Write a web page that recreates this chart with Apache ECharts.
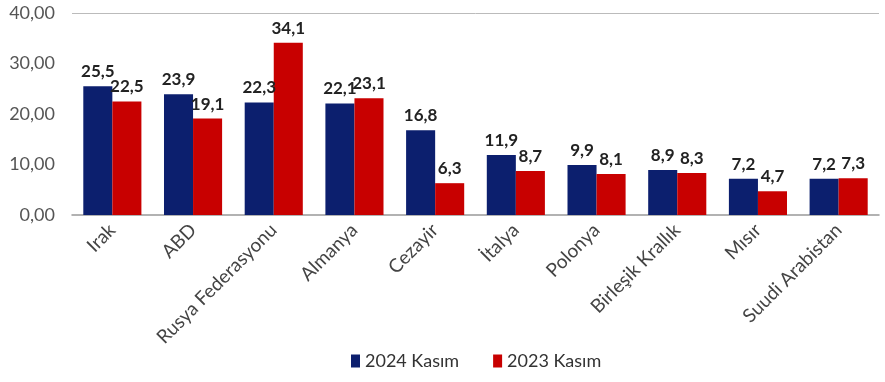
<!DOCTYPE html>
<html>
<head>
<meta charset="utf-8">
<script src="https://cdn.jsdelivr.net/npm/echarts@6/dist/echarts.min.js"></script>
<style>
html,body{margin:0;padding:0;background:#fff;}
#chart{width:885px;height:382px;}
</style>
</head>
<body>
<div id="chart"></div>
<script>
// Countries and monthly values (November 2024 vs November 2023)
const countries = ['Irak', 'ABD', 'Rusya Federasyonu', 'Almanya', 'Cezayir', 'İtalya', 'Polonya', 'Birleşik Krallık', 'Mısır', 'Suudi Arabistan'];
const kasim2024 = [25.5, 23.9, 22.3, 22.1, 16.8, 11.9, 9.9, 8.9, 7.2, 7.2];
const kasim2023 = [22.5, 19.1, 34.1, 23.1, 6.3, 8.7, 8.1, 8.3, 4.7, 7.3];
const seriesNames = ['2024 Kasım', '2023 Kasım'];

const FONT = 'Lato, "Open Sans", sans-serif';
const fmt = v => v.toFixed(1).replace('.', ',');

const chart = echarts.init(document.getElementById('chart'));
chart.setOption({
  animation: false,
  textStyle: { fontFamily: FONT },
  grid: { left: 72, right: 6, top: 13, bottom: 167 },
  legend: {
    bottom: 7,
    left: 346,
    itemWidth: 9,
    itemHeight: 13,
    itemGap: 34,
    icon: 'rect',
    textStyle: { fontSize: 18, color: '#333', fontFamily: FONT },
    data: seriesNames
  },
  xAxis: {
    type: 'category',
    data: countries,
    axisLine: { lineStyle: { color: '#999', width: 1.5 } },
    axisTick: { show: false },
    axisLabel: { rotate: 45, fontSize: 19, color: '#444', margin: 12, interval: 0, fontFamily: FONT }
  },
  yAxis: {
    type: 'value',
    min: 0,
    max: 40,
    interval: 10,
    axisLine: { show: false },
    axisTick: { show: false },
    splitLine: {
      show: true,
      lineStyle: { color: ['transparent', 'transparent', 'transparent', 'transparent', '#bbb'], width: 1 }
    },
    axisLabel: {
      fontSize: 18,
      color: '#555',
      margin: 17,
      fontFamily: FONT,
      formatter: v => v.toFixed(2).replace('.', ',')
    }
  },
  series: [
    {
      name: seriesNames[0],
      type: 'bar',
      data: kasim2024,
      barGap: '0%',
      barCategoryGap: '28%',
      itemStyle: { color: '#0c1f6e' },
      label: {
        show: true, position: 'top', distance: 6,
        fontSize: 17, fontWeight: 'bold', color: '#222', fontFamily: FONT,
        formatter: p => fmt(p.value)
      }
    },
    {
      name: seriesNames[1],
      type: 'bar',
      data: kasim2023,
      itemStyle: { color: '#c80000' },
      label: {
        show: true, position: 'top', distance: 6,
        fontSize: 17, fontWeight: 'bold', color: '#222', fontFamily: FONT,
        formatter: p => fmt(p.value)
      }
    }
  ]
});
</script>
</body>
</html>
